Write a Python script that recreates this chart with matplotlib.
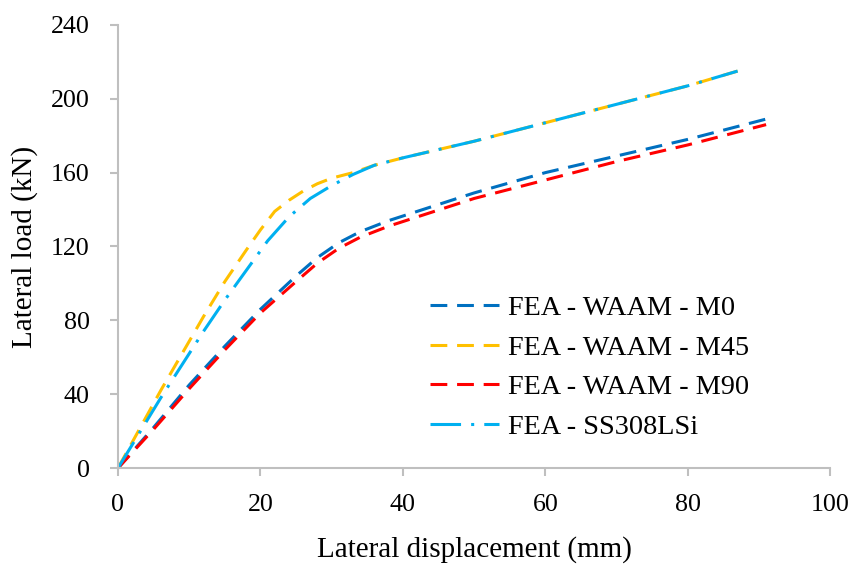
import matplotlib
matplotlib.use("Agg")
import matplotlib.pyplot as plt

# lateral displacement (mm) / lateral load (kN)
x_m0 = [0, 5, 10, 15, 20, 25, 28, 31, 34, 38, 42, 50, 60, 70, 80, 91]
y_m0 = [0, 22, 45, 66, 86, 104, 114, 122, 128, 134, 139, 149, 160, 169, 178, 189]

x_m45 = [0, 3, 6, 9, 12, 15, 18, 20, 22, 24, 26, 28, 30, 33, 36, 40, 50, 60, 70, 80, 87]
y_m45 = [0, 21, 42, 62, 82, 101, 118, 129, 139, 145, 150, 154, 157, 160, 164, 168, 177, 187, 197, 207, 215]

x_m90 = [0, 5, 10, 15, 20, 25, 28, 31, 34, 38, 42, 50, 60, 70, 80, 91]
y_m90 = [0, 21, 43, 64, 84, 101, 111, 119, 125, 131, 136, 146, 156, 166, 175, 186]

x_ss = [0, 3, 6, 9, 12, 15, 18, 21, 24, 27, 30, 33, 36, 40, 50, 60, 70, 80, 87]
y_ss = [0, 19, 38, 56, 74, 91, 107, 123, 136, 146, 153, 159, 164, 168, 177, 187, 197, 207, 215]

labels = ["FEA - WAAM - M0", "FEA - WAAM - M45", "FEA - WAAM - M90", "FEA - SS308LSi"]
colors = ["#0070C0", "#FFC000", "#FF0000", "#00B0F0"]

plt.rcParams["font.family"] = "Liberation Serif"

fig = plt.figure(figsize=(8.55, 5.66), dpi=100)
ax = fig.add_axes([0.138, 0.173, 0.833, 0.783])

dash = (0, (5.5, 3.2))
lw = 2.2
ax.plot(x_m0, y_m0, color=colors[0], lw=lw, linestyle=dash, label=labels[0])
ax.plot(x_m45, y_m45, color=colors[1], lw=lw, linestyle=dash, label=labels[1])
ax.plot(x_m90, y_m90, color=colors[2], lw=lw, linestyle=dash, label=labels[2])
ax.plot(x_ss, y_ss, color=colors[3], lw=lw, linestyle=(0, (10, 3.3, 1, 3.3)), label=labels[3])

ax.set_xlim(0, 100)
ax.set_ylim(0, 240)
ax.set_xticks(range(0, 101, 20))
ax.set_yticks(range(0, 241, 40))

for s in ["top", "right"]:
    ax.spines[s].set_visible(False)
for s in ["left", "bottom"]:
    ax.spines[s].set_color("#BFBFBF")
    ax.spines[s].set_linewidth(1.5)
ax.tick_params(colors="#BFBFBF", width=1.5, length=6, labelcolor="black", labelsize=18.7)
ax.tick_params(axis="x", pad=13)
ax.tick_params(axis="y", pad=14.5)

ax.set_xlabel("Lateral displacement (mm)", fontsize=21, labelpad=14)
ax.set_ylabel("Lateral load (kN)", fontsize=21, labelpad=9)

ax.legend(loc="upper left", bbox_to_anchor=(419 / 855, 1 - 284 / 566),
          bbox_transform=fig.transFigure, borderaxespad=0, frameon=False, fontsize=20.3,
          handlelength=2.45, labelspacing=0.49, handletextpad=0.32)

fig.savefig("out.png", dpi=100)
